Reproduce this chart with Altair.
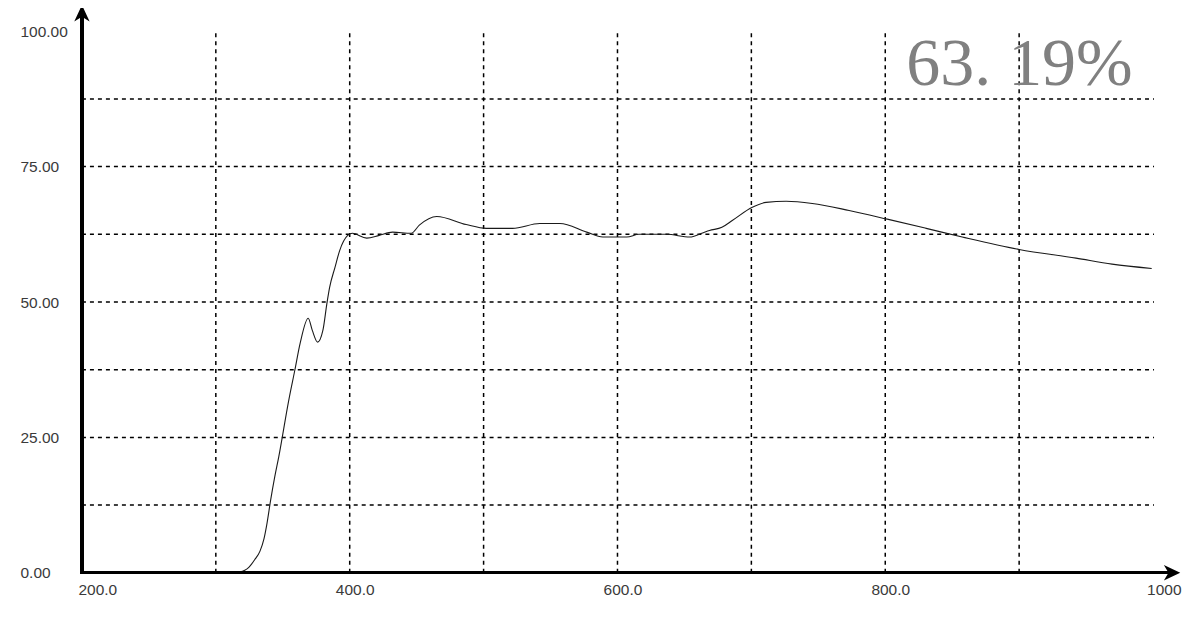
import altair as alt
import pandas as pd

# Transmittance curve
wavelength = [200, 250, 300, 318, 325, 329, 333, 336, 338, 341, 344, 347, 354.5, 359, 363, 369,
              372, 376, 380, 383, 385, 389, 392.5, 398.5, 402, 412.7, 422, 432, 446,
              452, 465, 487, 502, 521.6, 542, 557, 577, 589, 607, 616, 636.6, 654,
              663, 668.7, 678, 686, 700.7, 711, 726, 745.5, 773, 801.5, 830.6, 857.5,
              900, 942.5, 969.4, 999]
transmittance = [0, 0, 0, 0.2, 1.1, 2.4, 4.0, 6.3, 8.8, 13.5, 17.7, 21.4, 31.9, 37.4, 42.4, 47.0,
                 44.8, 42.6, 44.8, 49.8, 52.7, 56.4, 59.5, 62.3, 62.7, 61.8, 62.3, 62.9, 62.7,
                 64.2, 65.8, 64.3, 63.6, 63.6, 64.5, 64.5, 62.9, 62.0, 62.0, 62.5, 62.5, 62.0,
                 62.7, 63.2, 63.8, 65.1, 67.5, 68.4, 68.6, 68.2, 66.9, 65.3, 63.6, 62.0,
                 59.7, 58.1, 57.0, 56.2]

grid_x = [300, 400, 500, 600, 700, 800, 900]
grid_y = [12.5, 25, 37.5, 50, 62.5, 75, 87.5]
x_ticks = [200, 400, 600, 800, 1000]
y_ticks = [0, 25, 50, 75, 100]
annotation = ["63. 19%"]

W, H = 1072, 542

curve_df = pd.DataFrame({"wl": wavelength, "t": transmittance})
gx_df = pd.DataFrame({"wl": grid_x})
gy_df = pd.DataFrame({"t": grid_y})
ann_df = pd.DataFrame({"label": annotation})

xscale = alt.Scale(domain=[200, 1000], nice=False, zero=False)
yscale = alt.Scale(domain=[0, 100], nice=False)

xaxis = alt.Axis(values=x_ticks, title=None, grid=False, ticks=False, domain=False,
                 labelExpr="datum.value == 1000 ? '1000' : format(datum.value, '.1f')",
                 labelFont="Liberation Sans", labelFontSize=15.5, labelColor="#3a3a3a",
                 labelPadding=10, labelFlush=True,
                 labelOffset={"condition": [{"test": "datum.value == 200", "value": -4},
                                            {"test": "datum.value == 1000", "value": 28}],
                              "value": 5})
yaxis = alt.Axis(values=y_ticks, format=".2f", title=None, grid=False, ticks=False,
                 domain=False, labelAlign="left", labelPadding=62,
                 labelFont="Liberation Sans", labelFontSize=15.5, labelColor="#3a3a3a")

vgrid = alt.Chart(gx_df).mark_rule(color="black", strokeWidth=1.5, strokeDash=[4, 4]).encode(
    x=alt.X("wl:Q", scale=xscale, axis=xaxis),
    y=alt.value(2),
    y2=alt.value(H),
)
hgrid = alt.Chart(gy_df).mark_rule(color="black", strokeWidth=1.5, strokeDash=[4, 4]).encode(
    y=alt.Y("t:Q", scale=yscale, axis=yaxis),
    x=alt.value(0),
    x2=alt.value(W + 1),
)

curve = alt.Chart(curve_df).mark_line(color="#1a1a1a", strokeWidth=1.1, interpolate="monotone").encode(
    x=alt.X("wl:Q", scale=xscale, axis=xaxis),
    y=alt.Y("t:Q", scale=yscale, axis=yaxis),
)

yaxis_line = alt.Chart(curve_df).mark_rule(color="black", strokeWidth=2.6).encode(
    x=alt.value(0), y=alt.value(H + 1), y2=alt.value(-20)
)
xaxis_line = alt.Chart(curve_df).mark_rule(color="black", strokeWidth=2.6).encode(
    x=alt.value(-1), x2=alt.value(W + 20), y=alt.value(H)
)
arrow_shape = "M0,-1L0.75,0.6L0,0.15L-0.75,0.6Z"
yarrow = alt.Chart(ann_df).mark_point(shape=arrow_shape, filled=True, color="black", size=420, opacity=1).encode(
    x=alt.value(0), y=alt.value(-16)
)
xarrow = alt.Chart(ann_df).mark_point(shape=arrow_shape, filled=True, color="black", size=420, opacity=1, angle=90).encode(
    x=alt.value(W + 17), y=alt.value(H)
)

text = alt.Chart(ann_df).mark_text(align="left", baseline="alphabetic", font="Liberation Serif",
                                   fontSize=68, color="#808080").encode(
    x=alt.value(825), y=alt.value(54), text="label:N"
)

chart = alt.layer(vgrid, hgrid, curve, yaxis_line, xaxis_line, yarrow, xarrow, text).properties(
    width=W, height=H, autosize="none",
    padding={"left": 74, "top": 23, "right": 30, "bottom": 40},
    background="white",
).configure_view(stroke=None)

chart.save("out.html", embed_options={"renderer": "svg", "actions": False})
